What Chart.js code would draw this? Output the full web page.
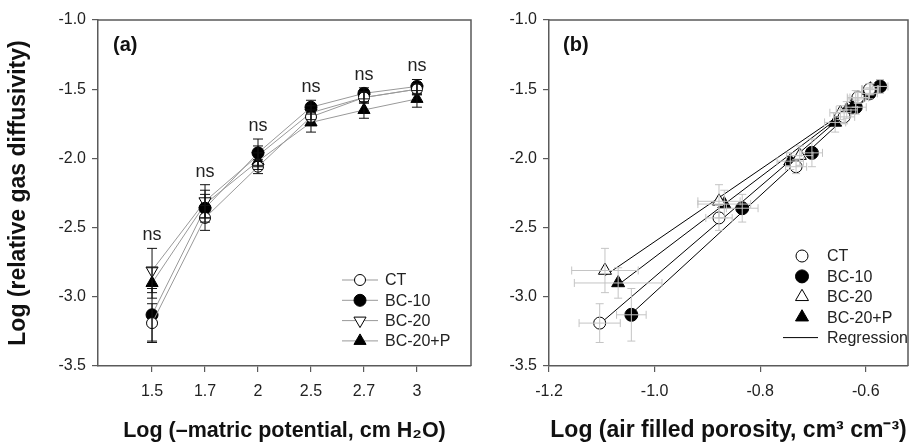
<!DOCTYPE html>
<html>
<head>
<meta charset="utf-8">
<script src="https://cdn.jsdelivr.net/npm/chart.js@4.4.1/dist/chart.umd.min.js"></script>
<style>
  html, body { margin: 0; padding: 0; background: #fff; }
  #wrapA { position: absolute; left: 0; top: 0; width: 480px; height: 447px; }
  #wrapB { position: absolute; left: 480px; top: 0; width: 440px; height: 447px; }
</style>
</head>
<body>
<div id="wrapA"><canvas id="chartA"></canvas></div>
<div id="wrapB"><canvas id="chartB"></canvas></div>
<script>
// categories / tick labels
const potentialLabels = ['1.5', '1.7', '2', '2.5', '2.7', '3'];
const sigLabels = ['ns', 'ns', 'ns', 'ns', 'ns', 'ns'];
const seriesNames = ['CT', 'BC-10', 'BC-20', 'BC-20+P'];
const yTicks = [-3.5, -3.0, -2.5, -2.0, -1.5, -1.0];
const xTicksB = [-1.2, -1.0, -0.8, -0.6];

// log relative gas diffusivity (mean, error)
const diffCT    = [-3.19, -2.43, -2.06, -1.70, -1.56, -1.50];
const diffBC10  = [-3.13, -2.36, -1.96, -1.63, -1.53, -1.48];
const diffBC20  = [-2.81, -2.31, -1.98, -1.67, -1.56, -1.50];
const diffBC20P = [-2.90, -2.33, -2.02, -1.74, -1.65, -1.57];
const errCT    = [0.14, 0.09, 0.05, 0.05, 0.04, 0.04];
const errBC10  = [0.19, 0.10, 0.10, 0.05, 0.04, 0.05];
const errBC20  = [0.16, 0.12, 0.07, 0.05, 0.04, 0.04];
const errBC20P = [0.11, 0.10, 0.06, 0.07, 0.06, 0.06];

// log air filled porosity (mean, error)
const poreCT    = [-1.104, -0.878, -0.732, -0.641, -0.615, -0.593];
const poreBC10  = [-1.044, -0.834, -0.702, -0.619, -0.593, -0.573];
const poreBC20  = [-1.094, -0.878, -0.725, -0.648, -0.615, -0.591];
const poreBC20P = [-1.069, -0.868, -0.743, -0.658, -0.636, -0.619];
const poreErrCT    = [0.039, 0.025, 0.020, 0.020, 0.015, 0.015];
const poreErrBC10  = [0.028, 0.030, 0.020, 0.020, 0.015, 0.015];
const poreErrBC20  = [0.063, 0.040, 0.025, 0.020, 0.020, 0.015];
const poreErrBC20P = [0.083, 0.050, 0.025, 0.020, 0.020, 0.015];

const diffs = [diffCT, diffBC10, diffBC20, diffBC20P];
const errs = [errCT, errBC10, errBC20, errBC20P];
const pores = [poreCT, poreBC10, poreBC20, poreBC20P];
const poreErrs = [poreErrCT, poreErrBC10, poreErrBC20, poreErrBC20P];

const FONT = "'Liberation Sans', Arial, sans-serif";
const AXIS = '#5a5a5a';
Chart.defaults.font.family = FONT;
Chart.defaults.color = '#222';

const markersA = [
  { pointStyle: 'circle', fill: '#fff', radius: 5.5, rotation: 0 },
  { pointStyle: 'circle', fill: '#000', radius: 6, rotation: 0 },
  { pointStyle: 'triangle', fill: '#fff', radius: 7, rotation: 180 },
  { pointStyle: 'triangle', fill: '#000', radius: 7, rotation: 0 }
];
const markersB = [
  { pointStyle: 'circle', fill: '#fff', radius: 6, rotation: 0 },
  { pointStyle: 'circle', fill: '#000', radius: 6.5, rotation: 0 },
  { pointStyle: 'triangle', fill: '#fff', radius: 7.5, rotation: 0 },
  { pointStyle: 'triangle', fill: '#000', radius: 7.5, rotation: 0 }
];

function marker(ctx, m, x, y) {
  ctx.save();
  ctx.fillStyle = m.fill;
  ctx.strokeStyle = '#000';
  ctx.lineWidth = 1;
  Chart.helpers.drawPoint(ctx, { pointStyle: m.pointStyle, radius: m.radius, rotation: m.rotation, borderWidth: 1 }, x, y);
  ctx.restore();
}

// least squares line
function fitLine(xs, ys) {
  const n = xs.length;
  const mx = xs.reduce((a, b) => a + b, 0) / n;
  const my = ys.reduce((a, b) => a + b, 0) / n;
  let sxy = 0, sxx = 0;
  for (let i = 0; i < n; i++) { sxy += (xs[i] - mx) * (ys[i] - my); sxx += (xs[i] - mx) ** 2; }
  const slope = sxy / sxx;
  return { slope, icpt: my - slope * mx };
}

const errorBars = {
  id: 'errorBars',
  afterDatasetsDraw(chart) {
    const ctx = chart.ctx;
    const xs = chart.scales.x, ys = chart.scales.y;
    chart.data.datasets.forEach(ds => {
      if (!ds.errY) return;
      ctx.save();
      ctx.strokeStyle = ds.errColor;
      ctx.lineWidth = 1;
      const cap = ds.capSize;
      ds.data.forEach((p, j) => {
        const px = xs.getPixelForValue(p.x), py = ys.getPixelForValue(p.y);
        const y1 = ys.getPixelForValue(p.y + ds.errY[j]), y2 = ys.getPixelForValue(p.y - ds.errY[j]);
        ctx.beginPath();
        ctx.moveTo(px, y1); ctx.lineTo(px, y2);
        ctx.moveTo(px - cap, y1); ctx.lineTo(px + cap, y1);
        ctx.moveTo(px - cap, y2); ctx.lineTo(px + cap, y2);
        if (ds.errX) {
          const x1 = xs.getPixelForValue(p.x - ds.errX[j]), x2 = xs.getPixelForValue(p.x + ds.errX[j]);
          ctx.moveTo(x1, py); ctx.lineTo(x2, py);
          ctx.moveTo(x1, py - cap); ctx.lineTo(x1, py + cap);
          ctx.moveTo(x2, py - cap); ctx.lineTo(x2, py + cap);
        }
        ctx.stroke();
      });
      ctx.restore();
    });
  }
};

// top and right frame lines, panel letter, legend
const frame = {
  id: 'frame',
  afterDraw(chart, args, opts) {
    const ctx = chart.ctx, a = chart.chartArea;
    ctx.save();
    ctx.strokeStyle = AXIS;
    ctx.lineWidth = 1.5;
    ctx.beginPath();
    ctx.moveTo(a.left, a.top); ctx.lineTo(a.right, a.top); ctx.lineTo(a.right, a.bottom);
    ctx.stroke();
    ctx.fillStyle = '#111';
    ctx.font = 'bold 20px ' + FONT;
    ctx.textBaseline = 'middle';
    ctx.textAlign = 'left';
    ctx.fillText(opts.letter, a.left + opts.letterDx, a.top + 25);

    // legend
    const lg = opts.legend;
    ctx.font = '16px ' + FONT;
    ctx.fillStyle = '#222';
    seriesNames.forEach((name, i) => {
      const y = lg.y + i * lg.step;
      if (lg.lines) {
        ctx.strokeStyle = '#999'; ctx.lineWidth = 1;
        ctx.beginPath(); ctx.moveTo(lg.mx - 18, y); ctx.lineTo(lg.mx + 18, y); ctx.stroke();
      }
      marker(ctx, opts.markers[i], lg.mx, y);
      ctx.fillStyle = '#222';
      ctx.fillText(name, lg.tx, y + 1);
    });
    if (lg.regression) {
      const y = lg.y + 4 * lg.step;
      ctx.strokeStyle = '#000'; ctx.lineWidth = 1;
      ctx.beginPath(); ctx.moveTo(lg.mx - 19, y); ctx.lineTo(lg.mx + 16, y); ctx.stroke();
      ctx.fillText(lg.regression, lg.tx, y + 1);
    }
    ctx.restore();
  }
};

// "ns" above the highest error bar of each category
const sigMarks = {
  id: 'sigMarks',
  afterDraw(chart) {
    const ctx = chart.ctx, xs = chart.scales.x, ys = chart.scales.y;
    ctx.save();
    ctx.font = '18px ' + FONT;
    ctx.fillStyle = '#222';
    ctx.textAlign = 'center';
    ctx.textBaseline = 'middle';
    sigLabels.forEach((lab, i) => {
      const top = Math.max(...diffs.map((d, k) => d[i] + errs[k][i]));
      ctx.fillText(lab, xs.getPixelForValue(i), ys.getPixelForValue(top) - 13);
    });
    ctx.restore();
  }
};

function yAxis(width, title) {
  return {
    type: 'linear', min: -3.5, max: -1.0,
    afterBuildTicks: s => { s.ticks = yTicks.map(v => ({ value: v })); },
    ticks: { callback: v => v.toFixed(1), font: { size: 16 }, color: '#222', padding: 6, autoSkip: false },
    grid: { drawOnChartArea: false, tickLength: 6, color: AXIS, lineWidth: 1.2 },
    border: { color: AXIS, width: 1.5 },
    title: title ? { display: true, text: title, color: '#111', font: { size: 23, weight: 'bold' }, padding: { top: 5, bottom: 0 } } : { display: false },
    afterFit: s => { s.width = width; }
  };
}

function xTitle(text, size) {
  return { display: true, text: text, color: '#111', font: { size: size, weight: 'bold' }, padding: { top: 0, bottom: 3 } };
}

// Panel (a)
const dsA = seriesNames.map((name, k) => ({
  label: name,
  data: diffs[k].map((v, i) => ({ x: i, y: v })),
  borderColor: '#999',
  borderWidth: 1,
  pointStyle: markersA[k].pointStyle,
  pointRotation: markersA[k].rotation,
  pointRadius: markersA[k].radius,
  pointBackgroundColor: markersA[k].fill,
  pointBorderColor: '#000',
  pointBorderWidth: 1,
  errY: errs[k],
  errColor: '#111',
  capSize: 5
}));

new Chart(document.getElementById('chartA'), {
  type: 'line',
  data: { datasets: dsA },
  options: {
    responsive: true, maintainAspectRatio: false, animation: false, devicePixelRatio: 1,
    layout: { padding: { top: 20, right: 9, left: 0, bottom: 0 } },
    plugins: {
      legend: { display: false }, tooltip: { enabled: false },
      frame: { letter: '(a)', letterDx: 15, markers: markersA, legend: { y: 280, step: 20.3, mx: 360, tx: 385, lines: true } }
    },
    scales: {
      x: {
        type: 'linear', min: -1.02, max: 6.02,
        afterBuildTicks: s => { s.ticks = potentialLabels.map((_, i) => ({ value: i })); },
        ticks: { callback: v => potentialLabels[v], font: { size: 16 }, color: '#222', padding: 10, maxRotation: 0, autoSkip: false },
        grid: { drawOnChartArea: false, tickLength: 6, color: AXIS, lineWidth: 1.2 },
        border: { color: AXIS, width: 1.5 },
        title: xTitle('Log (–matric potential, cm H₂O)', 21.5),
        afterFit: s => { s.height = 81; }
      },
      y: yAxis(98, 'Log (relative gas diffusivity)')
    }
  },
  plugins: [errorBars, frame, sigMarks]
});

// Panel (b)
const dsB = [];
seriesNames.forEach((name, k) => {
  dsB.push({
    label: name,
    data: pores[k].map((v, i) => ({ x: v, y: diffs[k][i] })),
    showLine: false,
    order: 1,
    pointStyle: markersB[k].pointStyle,
    pointRotation: markersB[k].rotation,
    pointRadius: markersB[k].radius,
    pointBackgroundColor: markersB[k].fill,
    pointBorderColor: '#000',
    pointBorderWidth: 1,
    errY: errs[k],
    errX: poreErrs[k],
    errColor: '#c4c4c4',
    capSize: 4
  });
});
seriesNames.forEach((name, k) => {
  const f = fitLine(pores[k], diffs[k]);
  const x0 = Math.min(...pores[k]), x1 = Math.max(...pores[k]);
  dsB.push({
    label: name + ' regression',
    data: [{ x: x0, y: f.icpt + f.slope * x0 }, { x: x1, y: f.icpt + f.slope * x1 }],
    borderColor: '#000',
    borderWidth: 1,
    pointRadius: 0,
    order: 2
  });
});

new Chart(document.getElementById('chartB'), {
  type: 'line',
  data: { datasets: dsB },
  options: {
    responsive: true, maintainAspectRatio: false, animation: false, devicePixelRatio: 1,
    layout: { padding: { top: 20, right: 12, left: 0, bottom: 0 } },
    plugins: {
      legend: { display: false }, tooltip: { enabled: false },
      frame: { letter: '(b)', letterDx: 14, markers: markersB, legend: { y: 256, step: 20.4, mx: 322, tx: 347, lines: false, regression: 'Regression' } }
    },
    scales: {
      x: {
        type: 'linear', min: -1.2, max: -0.52,
        afterBuildTicks: s => { s.ticks = xTicksB.map(v => ({ value: v })); },
        ticks: { callback: v => v.toFixed(1), font: { size: 16 }, color: '#222', padding: 10, maxRotation: 0, autoSkip: false },
        grid: { drawOnChartArea: false, tickLength: 6, color: AXIS, lineWidth: 1.2 },
        border: { color: AXIS, width: 1.5 },
        title: xTitle('Log (air filled porosity, cm³ cm⁻³)', 23),
        afterFit: s => { s.height = 81; }
      },
      y: yAxis(69, null)
    }
  },
  plugins: [errorBars, frame]
});
</script>
</body>
</html>
